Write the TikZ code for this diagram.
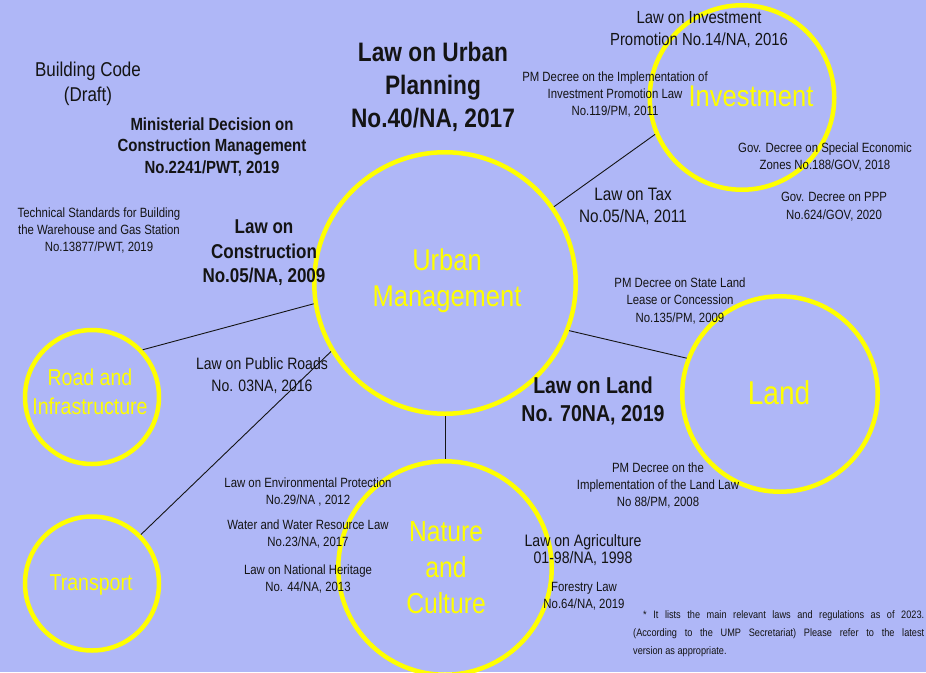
\documentclass[tikz,border=0pt]{standalone}
\usepackage{fontspec}
\setmainfont{Liberation Sans}[FakeStretch=0.85]
\definecolor{bgblue}{RGB}{175,183,247}
\definecolor{yel}{RGB}{255,255,0}
\definecolor{ink}{RGB}{20,20,20}
\begin{document}
\begin{tikzpicture}[x=1pt,y=-1pt,
  hub/.style={circle,draw=yel,line width=4.5pt,inner sep=0pt},
  lbl/.style={align=center,text=ink,inner sep=0pt},
  reg/.style 2 args={lbl,font=\fontsize{#1}{#2}\selectfont},
  bld/.style 2 args={lbl,font=\fontsize{#1}{#2}\selectfont\bfseries},
  yl/.style 2 args={align=center,text=yel,inner sep=0pt,font=\fontsize{#1}{#2}\selectfont},
  link/.style={draw=ink,line width=0.9pt}]
\fill[bgblue] (0,0) rectangle (926,672);
\useasboundingbox (0,0) rectangle (926,672);

% circles
\node[hub,minimum size=261.5pt] (urban) at (445,283) {};
\node[hub,minimum size=184.5pt] (inv) at (742,97.5) {};
\node[hub,minimum size=195.5pt] (land) at (780,394) {};
\node[hub,minimum size=213.5pt] (nat) at (445,568) {};
\node[hub,minimum size=134pt] (road) at (92,397) {};
\node[hub,minimum size=134pt] (trans) at (92,583.5) {};

% connectors
\draw[link] (urban.35) -- (inv.203.8);
\draw[link] (urban.-21.3) -- (land.159.4);
\draw[link] (urban.189.4) -- (road.43.3);
\draw[link] (urban.211.1) -- (trans.45.3);
\draw[link] (urban.south) -- (nat.north);

% circle labels
\node[yl={30}{36}] (umlbl) at (447,281) {Urban\\Management};
\node[yl={30}{36}] (invlbl) at (751,96) {Investment};
\node[yl={33}{38}] (landlbl) at (779,393) {Land};
\node[yl={29}{36}] (natlbl) at (446,568) {Nature\\and\\Culture};
\node[yl={23}{29}] (roadlbl) at (90,391.5) {Road and\\Infrastructure};
\node[yl={23}{29}] (translbl) at (91,585) {Transport};

% law texts
\node[reg={20}{25}] (bcode) at (88,83.5) {Building Code\\(Draft)};
\node[bld={17.6}{21.5}] (mdec) at (212,146.5) {Ministerial Decision on\\Construction Management\\No.2241/PWT, 2019};
\node[reg={13.4}{17}] (tech) at (99,230) {Technical Standards for Building\\the Warehouse and Gas Station\\No.13877/PWT, 2019};
\node[bld={26.7}{33}] (lup) at (433,87) {Law on Urban\\Planning\\No.40/NA, 2017};
\node[bld={20}{24.5}] (lcon) at (264,253) {Law on\\Construction\\No.05/NA, 2009};
\node[reg={17.5}{22}] (linv) at (699,30) {Law on Investment\\Promotion No.14/NA, 2016};
\node[reg={13.4}{17}] (pminv) at (615,94) {PM Decree on the Implementation of\\Investment Promotion Law\\No.119/PM, 2011};
\node[reg={18}{22}] (ltax) at (633,206) {Law on Tax\\No.05/NA, 2011};
\node[reg={13.4}{17.5}] (sez) at (825,157) {Gov. Decree on Special Economic\\Zones No.188/GOV, 2018};
\node[reg={13.4}{17.5}] (ppp) at (834,206.5) {Gov. Decree on PPP\\No.624/GOV, 2020};
\node[reg={13.4}{17.5}] (pmsl) at (680,300.5) {PM Decree on State Land\\Lease or Concession\\No.135/PM, 2009};
\node[bld={23}{28}] (lland) at (593,401) {Law on Land\\No. 70NA, 2019};
\node[reg={13.4}{17}] (pmll) at (658,485) {PM Decree on the\\Implementation of the Land Law\\No 88/PM, 2008};
\node[reg={16.5}{22}] (lpr) at (262,376) {Law on Public Roads\\No. 03NA, 2016};
\node[reg={13.4}{17}] (lep) at (308,491.5) {Law on Environmental Protection\\No.29/NA , 2012};
\node[reg={13.4}{17}] (wwr) at (308,533.5) {Water and Water Resource Law\\No.23/NA, 2017};
\node[reg={13.4}{17.5}] (lnh) at (308,579) {Law on National Heritage\\No. 44/NA, 2013};
\node[reg={16.6}{17}] (lagr) at (583,550.5) {Law on Agriculture\\01-98/NA, 1998};
\node[reg={13.4}{17}] (fl) at (584,596.5) {Forestry Law\\No.64/NA, 2019};

% footnote
\node[reg={10.8}{18},anchor=base west] (fn1) at (643,618.5) {\makebox[281pt][s]{* It lists the main relevant laws and regulations as of 2023.}};
\node[reg={10.8}{18},anchor=base west] (fn2) at (633,636.5) {\makebox[291pt][s]{(According to the UMP Secretariat) Please refer to the latest}};
\node[reg={10.8}{18},anchor=base west] (fn3) at (633,654.5) {version as appropriate.};
\end{tikzpicture}
\end{document}
